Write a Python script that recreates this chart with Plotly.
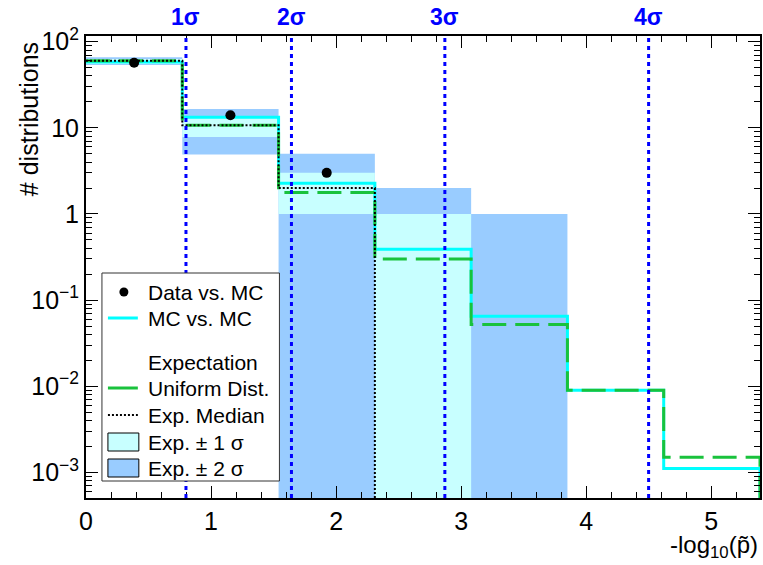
import plotly.graph_objects as go

# ---------------- data ----------------
bin_edges = [0.0, 0.77, 1.54, 2.31, 3.08, 3.85, 4.62, 5.39]
mc_vs_mc = [58.0, 13.3, 2.27, 0.39, 0.065, 0.0090, 0.00111]
uniform_exp = [60.0, 10.7, 1.78, 0.30, 0.052, 0.0090, 0.0015]
exp_median = [60.0, 10.7, 2.0, 0, 0, 0, 0]
band1_lo = [55.0, 7.8, 1.0, 0, 0, 0, 0]
band1_hi = [63.0, 13.0, 3.0, 1.0, 0, 0, 0]
band2_lo = [53.6, 4.9, 0, 0, 0, 0, 0]
band2_hi = [66.0, 16.5, 5.0, 2.0, 1.0, 0, 0]
data_y = [57.0, 14.0, 3.0]
sigma_pos = [0.7995, 1.6430, 2.8697, 4.4993]
sigma_labels = ["1σ", "2σ", "3σ", "4σ"]
y_tickvals = [1e-3, 1e-2, 1e-1, 1, 10, 100]
y_ticktext = ["10<sup>−3</sup>", "10<sup>−2</sup>", "10<sup>−1</sup>", "1", "10", "10<sup>2</sup>"]

FLOOR = 1e-6
FONT = "Liberation Sans, Arial, Helvetica, sans-serif"

C_CYAN = "#00FFFF"
C_GREEN = "#19C23C"
C_B1 = "#C8FFFF"
C_B2 = "#99CCFF"
C_BLUE = "#0000FF"


def step(vals):
    xs, ys = [], []
    for i, v in enumerate(vals):
        yv = v if v > 0 else FLOOR
        xs += [bin_edges[i], bin_edges[i + 1]]
        ys += [yv, yv]
    xs.append(bin_edges[-1])
    ys.append(FLOOR)
    return xs, ys


def band(lo, hi):
    xs, ys = [], []
    for i in range(len(hi)):
        if hi[i] <= 0:
            continue
        l = lo[i] if lo[i] > 0 else FLOOR
        x0, x1 = bin_edges[i], bin_edges[i + 1]
        xs += [x0, x1, x1, x0, x0, None]
        ys += [l, l, hi[i], hi[i], l, None]
    return xs, ys


fig = go.Figure()

bx, by = band(band2_lo, band2_hi)
fig.add_trace(go.Scatter(x=bx, y=by, fill="toself", fillcolor=C_B2, mode="lines",
                         line=dict(width=0, color=C_B2), hoverinfo="skip", showlegend=False))
bx, by = band(band1_lo, band1_hi)
fig.add_trace(go.Scatter(x=bx, y=by, fill="toself", fillcolor=C_B1, mode="lines",
                         line=dict(width=0, color=C_B1), hoverinfo="skip", showlegend=False))

sx, sy = step(mc_vs_mc)
fig.add_trace(go.Scatter(x=sx, y=sy, mode="lines", line=dict(color=C_CYAN, width=3),
                         showlegend=False))
sx, sy = step(uniform_exp)
fig.add_trace(go.Scatter(x=sx, y=sy, mode="lines",
                         line=dict(color=C_GREEN, width=3, dash="24px,9px"), showlegend=False))
sx, sy = step(exp_median)
fig.add_trace(go.Scatter(x=sx, y=sy, mode="lines",
                         line=dict(color="black", width=2, dash="2px,2px"), showlegend=False))

centers = [(bin_edges[i] + bin_edges[i + 1]) / 2 for i in range(len(data_y))]
fig.add_trace(go.Scatter(x=centers, y=data_y, mode="markers",
                         marker=dict(color="black", size=10), showlegend=False))

# ---------------- geometry helpers (pixel -> paper) ----------------
L, R, T, B = 86, 762, 36, 498
W, H = 763, 565


def px(x):
    return (x - L) / (R - L)


def py(y):
    return (B - y) / (B - T)


shapes = []
annotations = []
for pos, lab in zip(sigma_pos, sigma_labels):
    shapes.append(dict(type="line", xref="x", yref="paper", x0=pos, x1=pos, y0=0, y1=1,
                       line=dict(color=C_BLUE, width=3, dash="4px,4px"), layer="above"))
    annotations.append(dict(xref="x", yref="paper", x=pos, y=py(17), text="<b>%s</b>" % lab,
                            showarrow=False, xanchor="center", yanchor="middle",
                            font=dict(family=FONT, size=23, color=C_BLUE)))

# ---------------- manual legend ----------------
shapes.append(dict(type="rect", xref="paper", yref="paper", x0=px(102), x1=px(280),
                   y0=py(481), y1=py(273), fillcolor="white",
                   line=dict(color="#333333", width=1), layer="above"))
shapes.append(dict(type="circle", xref="paper", yref="paper", x0=px(119.5), x1=px(128.5),
                   y0=py(296.5), y1=py(287.5), fillcolor="black", line=dict(width=0),
                   layer="above"))
shapes.append(dict(type="line", xref="paper", yref="paper", x0=px(108), x1=px(138),
                   y0=py(318), y1=py(318), line=dict(color=C_CYAN, width=3), layer="above"))
shapes.append(dict(type="line", xref="paper", yref="paper", x0=px(108), x1=px(138),
                   y0=py(388), y1=py(388), line=dict(color=C_GREEN, width=3), layer="above"))
shapes.append(dict(type="line", xref="paper", yref="paper", x0=px(108), x1=px(138),
                   y0=py(415), y1=py(415), line=dict(color="black", width=2, dash="2px,2px"),
                   layer="above"))
shapes.append(dict(type="rect", xref="paper", yref="paper", x0=px(108), x1=px(139),
                   y0=py(451), y1=py(433), fillcolor=C_B1, line=dict(color="black", width=1),
                   layer="above"))
shapes.append(dict(type="rect", xref="paper", yref="paper", x0=px(108), x1=px(139),
                   y0=py(477), y1=py(459), fillcolor=C_B2, line=dict(color="black", width=1),
                   layer="above"))

legend_rows = [("Data vs. MC", 292), ("MC vs. MC", 318), ("Expectation", 362),
               ("Uniform Dist.", 388), ("Exp. Median", 415), ("Exp. ± 1 σ", 442),
               ("Exp. ± 2 σ", 468)]
for txt, yy in legend_rows:
    annotations.append(dict(xref="paper", yref="paper", x=px(146), y=py(yy), text=txt,
                            showarrow=False, xanchor="left", yanchor="middle",
                            font=dict(family=FONT, size=21, color="black")))

# axis titles
annotations.append(dict(xref="paper", yref="paper", x=1.0, y=py(546),
                        text="-log<sub>10</sub>(p\u0303)", showarrow=False,
                        xanchor="right", yanchor="middle",
                        font=dict(family=FONT, size=24, color="black")))
annotations.append(dict(xref="paper", yref="paper", x=px(29), y=py(119),
                        text="# distributions", showarrow=False, textangle=-90,
                        xanchor="center", yanchor="middle",
                        font=dict(family=FONT, size=25, color="black")))

minor_y = [k * 10 ** n for n in range(-4, 3) for k in range(2, 10)]

fig.update_layout(
    width=W, height=H,
    margin=dict(l=L, r=W - R, t=T, b=H - B),
    paper_bgcolor="white", plot_bgcolor="white",
    shapes=shapes, annotations=annotations,
    showlegend=False,
    xaxis=dict(range=[0, 5.39], showgrid=False, zeroline=False,
               showline=True, linecolor="black", linewidth=2, mirror="allticks",
               ticks="inside", ticklen=12, tickwidth=1, tickcolor="black",
               tick0=0, dtick=1,
               minor=dict(ticks="inside", ticklen=6, dtick=0.2, tick0=0,
                          tickcolor="black", showgrid=False),
               tickfont=dict(family=FONT, size=25, color="black")),
    yaxis=dict(type="log", range=[-3.298, 2.066], showgrid=False, zeroline=False,
               showline=True, linecolor="black", linewidth=2, mirror="allticks",
               ticks="inside", ticklen=12, tickwidth=1, tickcolor="black",
               tickmode="array", tickvals=y_tickvals, ticktext=y_ticktext,
               minor=dict(ticks="inside", ticklen=6, tickmode="array", tickvals=minor_y,
                          tickcolor="black", showgrid=False),
               tickfont=dict(family=FONT, size=25, color="black")),
)

fig.write_html("out.html")
